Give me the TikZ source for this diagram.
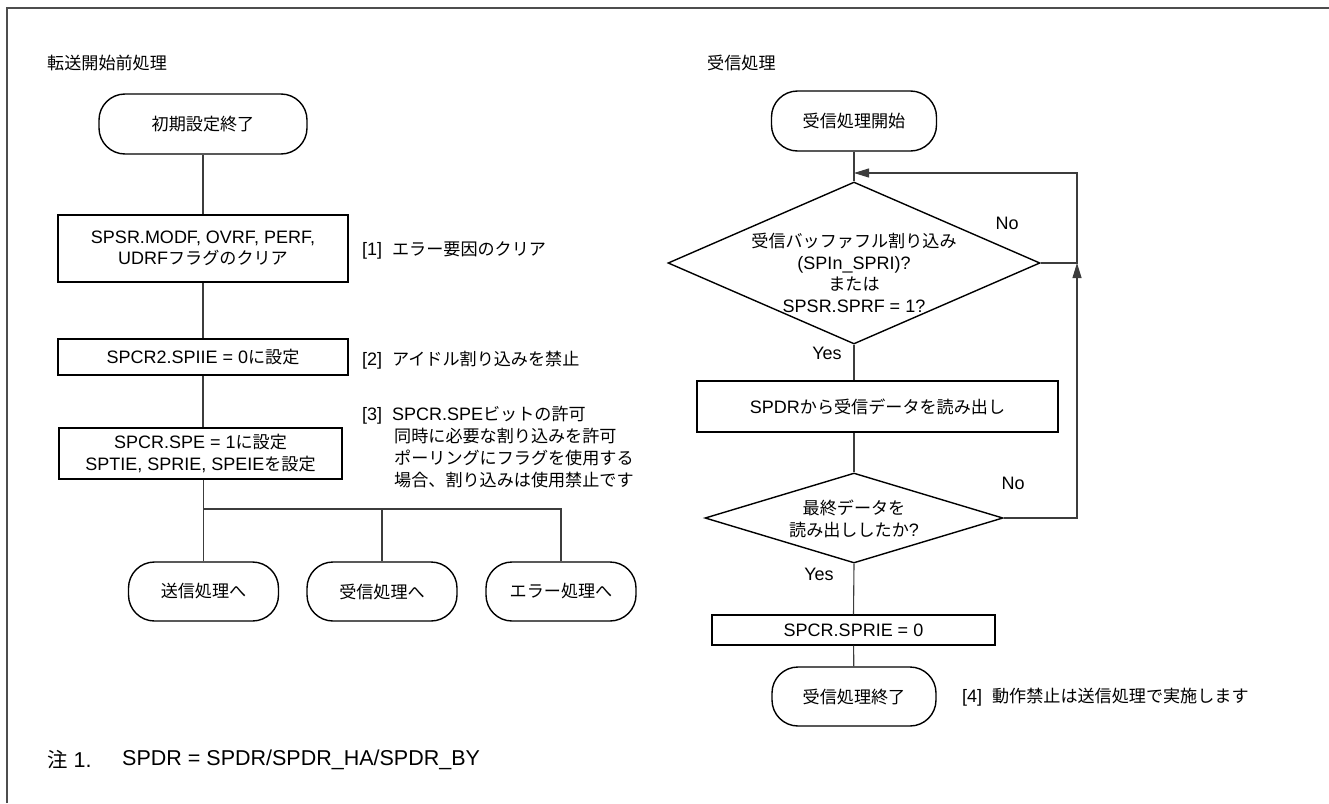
\documentclass[tikz,border=0pt]{standalone}
\usepackage{fontspec}
\setmainfont{Liberation Sans}
\newfontfamily\jpfont[Scale=0.95]{Noto Sans CJK JP}
\newcommand{\jp}[1]{{\jpfont #1}}
\usetikzlibrary{positioning,arrows.meta,shapes.geometric}
\definecolor{framegray}{HTML}{4D4D4D}
\definecolor{linegray}{HTML}{3C3C3C}

\tikzset{
  txt/.style={font=\fontsize{18}{21.5}\selectfont,inner sep=0pt},
  procbox/.style={txt,draw=black,line width=1.4pt,align=center},
  termbox/.style={txt,draw=black,line width=1.4pt,rounded corners=26pt,minimum height=60pt},
  decision/.style={draw=black,line width=1.4pt,diamond,inner sep=0pt},
  flow/.style={draw=linegray,line width=1.1pt},
  flowarrow/.style={flow,-{Triangle[length=15pt,width=9pt]}},
  remark/.style={txt,anchor=west,align=left},
  footnote/.style={remark,font=\fontsize{21.5}{25}\selectfont},
}

\begin{document}
\begin{tikzpicture}[x=1pt,y=-1pt]
\useasboundingbox (0,0) rectangle (1329,803);
\draw[framegray,line width=2pt] (7,803) -- (7,8) -- (1329,8);

% left flow
\node[remark] (ttl1) at (47,63) {\jp{転送開始前処理}};
\node[termbox,minimum width=208pt] (t1) at (203,124) {\jp{初期設定終了}};
\node[procbox,minimum width=290pt,minimum height=67pt] (clr) at (203,248.5)
  {SPSR.MODF, OVRF, PERF,\\UDRF\jp{フラグのクリア}};
\node[procbox,minimum width=290pt,minimum height=36pt] (idle) at (203,357)
  {SPCR2.SPIIE = 0\jp{に設定}};
\node[procbox,minimum width=283pt,minimum height=51pt] (spe) at (200.5,453.5)
  {SPCR.SPE = 1\jp{に設定}\\SPTIE, SPRIE, SPEIE\jp{を設定}};
\node[remark] (r1) at (362,250) {[1]\hspace{0.55em}\jp{エラー要因のクリア}};
\node[remark] (r2) at (362,360) {[2]\hspace{0.55em}\jp{アイドル割り込みを禁止}};
\node[remark,anchor=north west,font=\fontsize{18}{21.8}\selectfont] (r3) at (362,406)
  {[3]\hspace{0.55em}SPCR.SPE\jp{ビットの許可}\\
   \hspace*{32pt}\jp{同時に必要な割り込みを許可}\\
   \hspace*{32pt}\jp{ポーリングにフラグを使用する}\\
   \hspace*{32pt}\jp{場合、割り込みは使用禁止です}};
\foreach \nm/\cx/\lbl in {tosend/203.5/送信処理へ, torecv/382/受信処理へ, toerr/561/エラー処理へ}{
  \node[termbox,minimum width=150pt,minimum height=59pt] (\nm) at (\cx,591.5) {\jp{\lbl}};
}
\coordinate (split) at (203.5,509);
\draw[flow] (t1) -- (clr);
\draw[flow] (clr) -- (idle);
\draw[flow] (idle.south) -- (idle.south |- spe.north);
\draw[flow] (tosend.north |- spe.south) -- (tosend.north);
\draw[flow] (split) -| (toerr.north);
\draw[flow] (torecv.north |- split) -- (torecv.north);

% right flow
\node[remark] (ttl2) at (707,63) {\jp{受信処理}};
\node[termbox,minimum width=165pt] (t2) at (854,121) {\jp{受信処理開始}};
\coordinate (merge) at (854,173);
\node[decision,minimum width=372pt,minimum height=162pt] (d1) at (854,263) {};
\node[txt,align=center] (d1txt) at (854,273)
  {\jp{受信バッファフル割り込み}\\(SPIn\_SPRI)?\\\jp{または}\\SPSR.SPRF = 1?};
\node[procbox,minimum width=361pt,minimum height=51pt] (read) at (877.5,406.5)
  {SPDR\jp{から受信データを読み出し}};
\node[decision,minimum width=298pt,minimum height=90pt] (d2) at (854,518) {};
\node[txt,align=center] (d2txt) at (854,519) {\jp{最終データを}\\\jp{読み出ししたか}?};
\node[procbox,minimum width=283pt,minimum height=30pt] (off) at (853.5,630) {SPCR.SPRIE = 0};
\node[termbox,minimum width=164pt,minimum height=59pt] (t3) at (854,696.5) {\jp{受信処理終了}};
\node[remark] (r4) at (962,697) {[4]\hspace{0.55em}\jp{動作禁止は送信処理で実施します}};
\node[txt] (no1) at (1007,223) {No};
\node[txt] (yes1) at (827,353) {Yes};
\node[txt] (no2) at (1013,483) {No};
\node[txt] (yes2) at (819,574) {Yes};
\coordinate (rline) at (1077,0);
\draw[flow] (t2) -- (d1.north);
\draw[flowarrow] (d1.east) -- (d1.east -| rline) -- (merge -| rline) -- (merge);
\draw[flow] (d1.south) -- (d1.south |- read.north);
\draw[flow] (d2.north |- read.south) -- (d2.north);
\draw[flowarrow] (d2.east) -- (d2.east -| rline) -- (d1.east -| rline);
\draw[flow] (d2.south) -- (off.north);
\draw[flow] (off) -- (t3);

% note
\node[footnote] (nt) at (47,760) {\jp{注} 1.};
\node[footnote] (ntxt) at (122,760) {SPDR = SPDR/SPDR\_HA/SPDR\_BY};
\end{tikzpicture}
\end{document}
